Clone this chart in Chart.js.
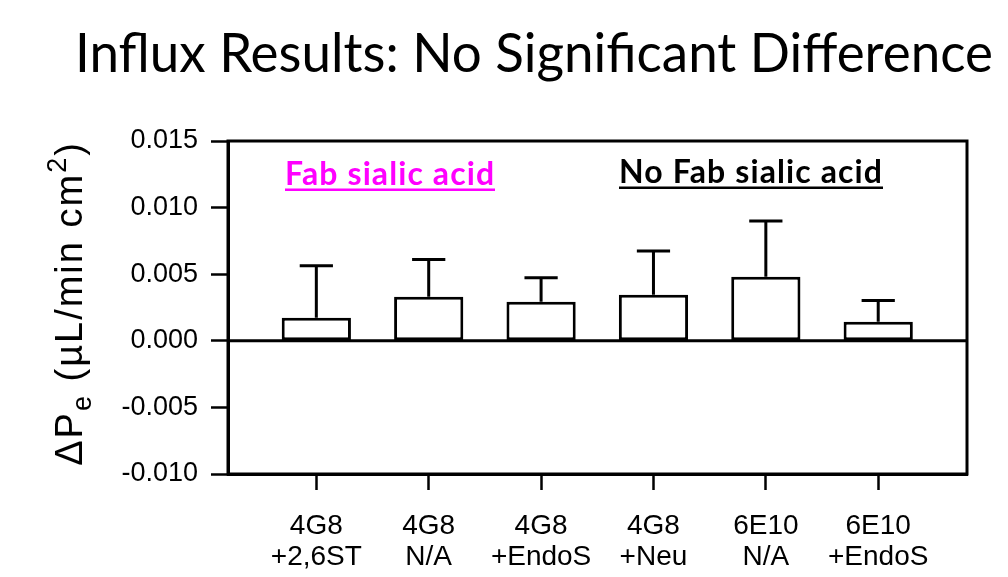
<!DOCTYPE html>
<html><head><meta charset="utf-8">
<script src="https://cdn.jsdelivr.net/npm/chart.js@4.4.0/dist/chart.umd.min.js"></script>
<style>html,body{margin:0;padding:0;background:#fff}#wrap{width:1008px;height:577px;position:relative}</style>
</head><body><div id="wrap"><canvas id="c" width="1008" height="577"></canvas></div>
<script>
const categories = [["4G8","+2,6ST"],["4G8","N/A"],["4G8","+EndoS"],["4G8","+Neu"],["6E10","N/A"],["6E10","+EndoS"]];
const meanValues = [0.00173, 0.0033, 0.00293, 0.00345, 0.0048, 0.00143];
const errorUpper = [0.0039, 0.0028, 0.0018, 0.0033, 0.0042, 0.0016];
const yTickValues = [-0.010, -0.005, 0.000, 0.005, 0.010, 0.015];
const titleText = "Influx Results: No Significant Difference";
const groupLabels = ["Fab sialic acid", "No Fab sialic acid"];

function fitText(ctx, text, x, y, width) {
  ctx.letterSpacing = '0px';
  const w = ctx.measureText(text).width;
  if (w > width) { ctx.fillText(text, x, y, width); return; }
  const n = text.length - 1;
  ctx.letterSpacing = ((width - w) / n).toFixed(2) + 'px';
  ctx.fillText(text, x, y);
  ctx.letterSpacing = '0px';
}

const overlay = {
  id: 'overlay',
  afterDatasetsDraw(chart) {
    const ctx = chart.ctx, ca = chart.chartArea;
    const xs = chart.scales.x, ys = chart.scales.y;
    const meta = chart.getDatasetMeta(0);
    ctx.save();
    ctx.strokeStyle = '#000'; ctx.lineWidth = 3;
    ctx.strokeRect(ca.left, ca.top, ca.right - ca.left, ca.bottom - ca.top);
    ctx.beginPath(); ctx.moveTo(ca.left, ys.getPixelForValue(0)); ctx.lineTo(ca.right, ys.getPixelForValue(0)); ctx.stroke();
    ctx.lineWidth = 3; ctx.lineCap = 'butt';
    meanValues.forEach((m, i) => {
      const x = xs.getPixelForValue(i);
      const yb = ys.getPixelForValue(m);
      const yt = ys.getPixelForValue(m + errorUpper[i]);
      const hw = meta.data[i].width * 0.24;
      ctx.beginPath();
      ctx.moveTo(x, yb); ctx.lineTo(x, yt);
      ctx.moveTo(x - hw, yt); ctx.lineTo(x + hw, yt);
      ctx.stroke();
    });
    ctx.textBaseline = 'alphabetic'; ctx.textAlign = 'left';
    ctx.font = 'bold 32px Lato, "Open Sans", sans-serif';
    ctx.fillStyle = '#FF00FF';
    fitText(ctx, groupLabels[0], 285, 185, 209);
    ctx.fillRect(285, 188.5, 210, 2.5);
    ctx.fillStyle = '#000';
    fitText(ctx, groupLabels[1], 619, 183, 263);
    ctx.fillRect(619, 186.5, 264, 2.5);
    ctx.font = '54px Lato, "Open Sans", sans-serif';
    fitText(ctx, titleText, 75, 72, 918);
    ctx.translate(82, 303.5);
    ctx.rotate(-Math.PI / 2);
    const big = '38px "Liberation Sans", Arial, sans-serif';
    const small = '27px "Liberation Sans", Arial, sans-serif';
    ctx.letterSpacing = '2px';
    const parts = [["\u0394P", big, 0], ["e", small, 9], [" (\u00b5L/min cm", big, 0], ["2", small, -16], [")", big, 0]];
    let total = 0;
    parts.forEach(p => { ctx.font = p[1]; total += ctx.measureText(p[0]).width; });
    let px = -total / 2;
    parts.forEach(p => { ctx.font = p[1]; ctx.fillText(p[0], px, p[2]); px += ctx.measureText(p[0]).width; });
    ctx.restore();
  }
};

new Chart(document.getElementById('c'), {
  type: 'bar',
  data: {
    datasets: [{
      data: meanValues.map((v, i) => ({ x: i, y: v })),
      backgroundColor: '#fff',
      borderColor: '#000',
      borderWidth: 3,
      borderSkipped: false,
      barPercentage: 0.616,
      categoryPercentage: 1
    }]
  },
  options: {
    responsive: false,
    animation: false,
    devicePixelRatio: 1,
    layout: { padding: { top: 141, right: 41, left: 0, bottom: 0 } },
    plugins: { legend: { display: false }, tooltip: { enabled: false }, title: { display: false } },
    scales: {
      x: {
        type: 'linear',
        offset: false,
        min: -0.786, max: 5.79,
        afterBuildTicks: s => { s.ticks = categories.map((_, i) => ({ value: i })); },
        afterFit: s => { s.height = 103; },
        ticks: {
          includeBounds: false,
          autoSkip: false,
          maxRotation: 0,
          color: '#000',
          padding: 21,
          font: { family: '"Liberation Sans", Arial, sans-serif', size: 28, lineHeight: 1.1 },
          callback: v => categories[Math.round(v)]
        },
        grid: { drawOnChartArea: false, offset: false, tickLength: 16, tickColor: '#000', tickWidth: 2.5, color: '#000' },
        border: { display: true, color: '#000', width: 3 }
      },
      y: {
        min: -0.010, max: 0.015,
        afterBuildTicks: s => { s.ticks = yTickValues.map(v => ({ value: v })); },
        afterFit: s => { s.width = 228; },
        ticks: {
          color: '#000',
          padding: 13,
          font: { family: '"Liberation Sans", Arial, sans-serif', size: 27 },
          callback: v => (Math.abs(v) < 1e-9 ? 0 : v).toFixed(3)
        },
        grid: { drawOnChartArea: false, tickLength: 17, tickColor: '#000', tickWidth: 2.5, color: '#000' },
        border: { display: true, color: '#000', width: 3 }
      }
    }
  },
  plugins: [overlay]
});
</script></body></html>
